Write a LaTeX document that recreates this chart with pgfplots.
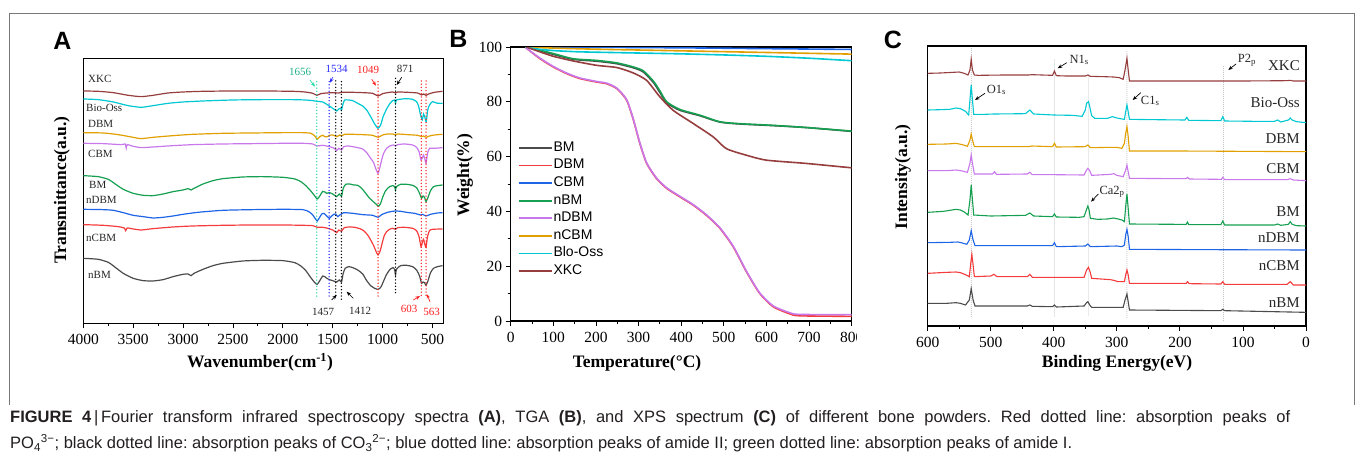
\documentclass[border=0pt]{standalone}
\usepackage{fontspec}
\setmainfont{Liberation Serif}
\setsansfont{Liberation Sans}
\usepackage{pgfplots}
\pgfplotsset{compat=1.18}
\usetikzlibrary{arrows.meta}
\newcommand{\fs}[1]{\fontsize{#1}{#1}\selectfont}
\definecolor{cXKC}{RGB}{150,62,62}
\definecolor{cBio}{RGB}{0,200,210}
\definecolor{cDBM}{RGB}{225,160,0}
\definecolor{cCBM}{RGB}{200,120,235}
\definecolor{cBM}{RGB}{20,160,80}
\definecolor{cnDBM}{RGB}{30,100,230}
\definecolor{cnCBM}{RGB}{245,60,60}
\definecolor{cnBM}{RGB}{75,75,75}
\definecolor{dgreen}{RGB}{40,220,170}
\definecolor{dblue}{RGB}{40,40,255}
\definecolor{dred}{RGB}{255,30,30}
\definecolor{frame}{RGB}{120,120,120}
\definecolor{capt}{RGB}{35,31,32}
\pgfplotsset{panel/.style={scale only axis, axis line style={line width=1.3pt},
  tick style={line width=0.9pt, black}, tick align=outside,
  major tick length=5pt, minor tick length=3pt,
  tick label style={font=\fs{15.5}},
  xticklabel style={yshift=-2.5pt},
  /pgf/number format/assume math mode=true, /pgf/number format/1000 sep={}}}
\tikzset{dotl/.style={line width=1.5pt, line cap=round, dash pattern=on 0pt off 3.2pt},
  arr/.style={-{Stealth[length=4.5pt,width=3.5pt]}, line width=0.7pt}}
\begin{document}
\frenchspacing
\begin{tikzpicture}[x=1pt,y=1pt]
\path (0,0) rectangle (1355,459);
% frame
\draw[frame, line width=0.8pt] (9.5,54) -- (9.5,446) -- (1354,446) -- (1354,54);
% panel letters
\node[font=\sffamily\bfseries\fs{25}] at (62.5,418.5) {A};
\node[font=\sffamily\bfseries\fs{25}] at (458.5,420) {B};
\node[font=\sffamily\bfseries\fs{25}] at (893,419) {C};
%================ A =================
\begin{axis}[panel, at={(83.3pt,135.7pt)}, anchor=south west, width=360pt, height=265pt,
  x dir=reverse, xmin=392, xmax=4000, y dir=reverse, ymin=115, ymax=910,
  xtick={500,1000,...,4000}, minor x tick num=1, ytick=\empty, xtick pos=left,
  every axis plot/.append style={line width=1.2pt, smooth, tension=0.35}]
\addplot[cXKC] coordinates {(4000,213)(3850,214)(3700,218)(3550,226)(3420,230)(3300,226)(3150,219)(3000,216)(2800,214)(2500,213)(2200,213)(1900,214)(1780,216)(1700,220)(1660,226)(1620,221)(1560,219)(1500,218)(1440,219)(1400,217)(1300,217)(1200,218)(1100,220)(1046,228)(1000,221)(950,218)(900,216)(871,219)(850,216)(750,217)(650,219)(610,225)(590,222)(565,226)(530,221)(480,217)(400,214)};
\addplot[cBio] coordinates {(4000,237)(3850,239)(3700,246)(3550,257)(3420,262)(3300,257)(3150,250)(3000,246)(2800,243)(2500,240)(2200,239)(1900,239)(1780,240)(1700,242)(1660,244)(1600,246)(1550,255)(1500,265)(1460,273)(1440,267)(1420,265)(1412,270)(1395,250)(1380,240)(1340,240)(1300,242)(1250,250)(1200,258)(1160,270)(1120,290)(1080,312)(1046,325)(1020,315)(995,290)(960,267)(930,252)(900,242)(880,240)(871,250)(862,240)(828,238)(760,236)(700,238)(660,245)(640,258)(620,285)(603,300)(590,282)(575,294)(563,305)(548,270)(530,255)(500,245)(450,250)(400,250)};
\addplot[cDBM] coordinates {(4000,338)(3800,339)(3650,344)(3500,352)(3420,356)(3300,352)(3100,347)(2900,343)(2600,340)(2300,339)(2000,338)(1800,338)(1720,340)(1680,348)(1656,358)(1630,350)(1600,346)(1580,350)(1550,350)(1534,346)(1500,345)(1460,350)(1430,345)(1412,348)(1380,343)(1300,343)(1200,344)(1100,346)(1046,352)(1000,345)(950,342)(900,342)(871,345)(850,342)(750,344)(650,346)(610,350)(590,348)(565,352)(530,348)(480,345)(400,343)};
\addplot[cCBM] coordinates {(4000,370)(3800,371)(3620,374)(3580,372)(3570,384)(3560,374)(3500,379)(3420,383)(3300,381)(3100,377)(2900,374)(2600,372)(2300,371)(2000,370)(1800,370)(1700,372)(1660,378)(1600,376)(1534,380)(1490,384)(1460,392)(1440,385)(1412,390)(1390,380)(1350,378)(1300,380)(1250,383)(1200,387)(1160,398)(1120,415)(1090,428)(1070,445)(1046,460)(1030,445)(1010,420)(990,400)(960,385)(920,377)(890,375)(871,378)(850,374)(780,372)(700,375)(660,382)(635,395)(615,420)(600,412)(590,405)(575,420)(565,430)(550,400)(530,385)(480,385)(400,383)};
\addplot[cBM] coordinates {(4000,467)(3850,470)(3750,478)(3680,492)(3600,508)(3500,520)(3400,526)(3300,527)(3200,522)(3100,515)(3000,510)(2950,506)(2920,510)(2890,505)(2800,492)(2700,482)(2600,476)(2400,471)(2200,470)(2000,472)(1880,477)(1820,485)(1770,497)(1720,513)(1680,528)(1656,537)(1630,528)(1600,514)(1580,516)(1560,520)(1534,518)(1500,522)(1460,530)(1435,522)(1412,529)(1395,505)(1370,493)(1330,492)(1290,495)(1250,496)(1210,505)(1170,520)(1130,535)(1090,546)(1060,554)(1040,559)(1020,550)(1000,532)(970,512)(930,500)(895,497)(880,500)(871,510)(862,500)(820,493)(760,493)(700,496)(660,503)(630,520)(610,535)(595,528)(580,532)(565,545)(545,532)(520,512)(490,500)(450,497)(400,495)};
\addplot[cnDBM] coordinates {(4000,568)(3800,569)(3700,571)(3600,578)(3500,586)(3400,590)(3300,594)(3200,592)(3100,588)(3000,583)(2850,577)(2600,571)(2300,569)(2000,568)(1800,569)(1740,575)(1700,585)(1670,598)(1656,603)(1635,594)(1610,582)(1590,580)(1560,588)(1534,595)(1510,588)(1490,583)(1470,582)(1450,590)(1430,585)(1412,582)(1390,578)(1340,579)(1300,580)(1200,584)(1100,586)(1046,592)(1010,584)(950,577)(900,574)(871,573)(820,574)(740,578)(680,580)(620,585)(600,583)(565,588)(520,583)(450,579)(400,578)};
\addplot[cnCBM] coordinates {(4000,614)(3800,616)(3650,620)(3590,624)(3575,632)(3560,624)(3500,627)(3420,630)(3300,626)(3100,621)(2900,618)(2600,616)(2300,615)(2000,615)(1800,616)(1700,617)(1656,622)(1600,622)(1550,625)(1500,630)(1460,638)(1440,630)(1412,634)(1385,623)(1330,621)(1280,622)(1230,626)(1190,632)(1150,645)(1120,660)(1090,677)(1065,695)(1046,705)(1025,693)(1005,670)(985,648)(960,635)(930,628)(900,625)(871,628)(850,623)(780,622)(700,625)(660,632)(635,650)(615,680)(600,665)(590,658)(575,675)(565,682)(550,650)(530,632)(500,628)(400,627)};
\addplot[cnBM] coordinates {(4000,715)(3850,718)(3750,727)(3680,742)(3600,760)(3500,775)(3400,782)(3300,783)(3200,779)(3100,770)(3000,763)(2950,762)(2920,767)(2890,760)(2800,748)(2700,737)(2600,730)(2400,723)(2200,721)(2000,722)(1880,728)(1820,738)(1770,752)(1720,773)(1680,788)(1656,793)(1630,782)(1600,768)(1580,770)(1560,775)(1534,779)(1500,782)(1460,786)(1435,780)(1412,786)(1395,760)(1375,745)(1340,740)(1300,743)(1250,750)(1200,762)(1160,782)(1120,797)(1080,805)(1050,808)(1030,806)(1010,797)(990,783)(960,763)(925,748)(895,743)(880,748)(871,765)(862,748)(820,737)(760,736)(700,740)(660,750)(630,768)(610,790)(595,786)(580,788)(565,796)(545,782)(520,758)(490,745)(450,740)(400,737)};
\draw[dgreen, dotl] (1660,185) -- (1660,835);
\draw[dblue, dotl] (1536,185) -- (1536,830);
\draw[black, dotl] (1470,183) -- (1470,830);
\draw[black, dotl] (1413,185) -- (1413,840);
\draw[dred, dotl] (1046,185) -- (1046,830);
\draw[black, dotl] (871,175) -- (871,825);
\draw[dred, dotl] (612,183) -- (612,830);
\draw[dred, dotl] (565,183) -- (565,830);
\end{axis}
% A names
\begin{scope}[every node/.style={anchor=west, inner sep=0pt, font=\fs{11}, text=black!85}]
\node at (88,380) {XKC};
\node at (86,351) {Bio-Oss};
\node at (88,335) {DBM};
\node at (88,305) {CBM};
\node at (89,274) {BM};
\node at (86,259) {nDBM};
\node at (86,221) {nCBM};
\node at (88,184) {nBM};
\end{scope}
\begin{scope}[every node/.style={inner sep=0pt, font=\fs{11}}]
\node[text=dgreen!80!black] at (300,387.5) {1656};
\node[text=dblue] at (336.5,390) {1534};
\node[text=dred] at (368,389) {1049};
\node[text=black!85] at (405,390) {871};
\node[text=black!85] at (323,147.5) {1457};
\node[text=black!85] at (360,148) {1412};
\node[text=dred] at (409,150.5) {603};
\node[text=dred] at (431.5,147.5) {563};
\end{scope}
\draw[arr, dgreen] (310,379) -- (315,372.3);
\draw[arr, dblue] (332.7,381.7) -- (330,376.3);
\draw[arr, dred] (371.7,379.7) -- (376,373.3);
\draw[arr, black] (401.7,381.7) -- (396.7,374);
\draw[arr, black] (331.7,159) -- (336.7,164);
\draw[arr, black] (353.3,160.7) -- (346.7,167.3);
\draw[arr, dred] (413.3,159) -- (420,163);
\draw[arr, dred] (430,157.3) -- (426.7,165);
\node[font=\bfseries\fs{17.5}, rotate=90] at (62,269) {Transmittance(a.u.)};
\node[font=\bfseries\fs{17.5}] at (260,97) {Wavenumber(cm\textsuperscript{-1})};
%================ B =================
\begin{scope}
\clip (440,0) rectangle (856,459);
\begin{axis}[panel, at={(510.7pt,138pt)}, anchor=south west, width=341pt, height=274pt,
  xmin=0, xmax=800, ymin=0, ymax=100, xtick={0,100,...,800}, ytick={0,20,...,100},
  minor tick num=1, xtick pos=left, ytick pos=left,
  every axis plot/.append style={line width=1.6pt, smooth, tension=0.4},
  legend style={at={(axis description cs:0.02,0.66)}, anchor=north west, draw=none, fill=none,
    font=\sffamily\fs{14}, row sep=2.6pt, inner sep=0pt,
    nodes={inner sep=1pt, text height=10pt, text depth=3pt}},
  legend cell align=left,
  legend image code/.code={\draw[#1, line width=1.8pt] (0pt,0pt) -- (33pt,0pt);}]
\addplot[cnBM] coordinates {(37,100)(60,99.0)(100,97.3)(147,95.5)(202,94.8)(249,93.9)(288,92.4)(311,90.9)(335,87.0)(350,83.4)(366,79.6)(397,76.9)(444,74.9)(491,72.6)(538,71.9)(616,71.3)(694,70.6)(800,69.2)};
\addlegendentry{BM}
\addplot[cnCBM] coordinates {(35,99.8)(69,95.7)(100,92.7)(131,90.3)(162,88.5)(202,87.2)(225,86.6)(249,84.8)(272,80.6)(288,73.3)(303,64.8)(319,57.5)(342,52)(366,48.4)(397,45.3)(428,42.3)(459,38.6)(491,33.8)(522,27.1)(553,18)(584,10.1)(616,5.2)(655,2.6)(678,1.9)(800,1.7)};
\addlegendentry{DBM}
\addplot[cnDBM] coordinates {(35,100)(200,99.9)(400,99.7)(600,99.4)(800,99.1)};
\addlegendentry{CBM}
\addplot[cBM] coordinates {(37,100)(60,99.2)(100,97.6)(147,95.7)(202,95.1)(249,94.2)(288,92.7)(311,91.3)(335,87.5)(350,84)(366,80)(397,77.2)(444,75.1)(491,72.7)(538,72)(616,71.4)(694,70.6)(800,69.3)};
\addlegendentry{nBM}
\addplot[cCBM] coordinates {(35,99.8)(69,95.9)(100,92.9)(131,90.5)(162,88.7)(202,87.4)(225,86.8)(249,85.0)(272,80.8)(288,73.5)(303,65.0)(319,57.7)(342,52.2)(366,48.6)(397,45.5)(428,42.5)(459,38.8)(491,34.0)(522,27.3)(553,18.2)(584,10.3)(616,5.5)(655,3.0)(678,2.4)(800,2.3)};
\addlegendentry{nDBM}
\addplot[cDBM] coordinates {(35,100)(100,99.6)(200,99.2)(300,98.9)(400,98.6)(500,98.3)(600,98.0)(700,97.7)(800,97.4)};
\addlegendentry{nCBM}
\addplot[cBio] coordinates {(35,100)(60,99.3)(100,98.7)(150,98.3)(200,98.1)(300,97.8)(400,97.5)(500,97.1)(600,96.6)(700,95.9)(800,95.0)};
\addlegendentry{Blo-Oss}
\addplot[cXKC] coordinates {(37,100)(69,98.2)(100,96.6)(147,94.9)(202,93.3)(249,92.5)(288,90.5)(319,87.8)(350,81.8)(381,76.9)(428,72.1)(475,67.2)(506,62.9)(553,60.5)(600,58.7)(694,57.5)(800,55.9)};
\addlegendentry{XKC}
\end{axis}
\end{scope}
\node[font=\bfseries\fs{17.5}, rotate=90] at (465,284) {Weight(\%)};
\node[font=\bfseries\fs{17.5}] at (637,96) {Temperature(°C)};
%================ C =================
\begin{axis}[panel, at={(927.7pt,133pt)}, anchor=south west, width=378.3pt, height=280pt,
  x dir=reverse, xmin=0, xmax=600, y dir=reverse, ymin=78, ymax=918,
  xtick={0,100,...,600}, minor x tick num=1, ytick=\empty, xtick pos=left,
  every axis plot/.append style={line width=1.1pt}]
\draw[black!35, line width=0.9pt, line cap=round, dash pattern=on 0pt off 2pt] (531,85) -- (531,895);
\draw[black!35, line width=0.9pt, line cap=round, dash pattern=on 0pt off 2pt] (399,120) -- (399,890);
\draw[black!35, line width=0.9pt, line cap=round, dash pattern=on 0pt off 2pt] (345,165) -- (345,890);
\draw[black!35, line width=0.9pt, line cap=round, dash pattern=on 0pt off 2pt] (284,95) -- (284,895);
\draw[black!35, line width=0.9pt, line cap=round, dash pattern=on 0pt off 2pt] (131,140) -- (131,905);
\addplot[cXKC] coordinates {(600,160)(580,159)(560,157)(550,156)(542,160)(536,165)(533,150)(531,118)(529,150)(526,165)(520,166)(480,165)(440,165)(435,164)(402,166)(399,153)(396,167)(380,168)(350,168)(346,165)(342,169)(320,170)(305,171)(296,173)(290,178)(287,150)(284,115)(282,150)(280,183)(200,183)(100,183)(30,182)(25,181)(20,183)(0,183)};
\addplot[cBio] coordinates {(600,270)(580,269)(565,268)(555,264)(548,266)(540,274)(535,285)(533,240)(531,195)(529,240)(527,283)(510,283)(495,282)(445,281)(438,270)(432,282)(400,285)(370,286)(355,289)(350,270)(348,250)(345,245)(343,260)(340,287)(335,295)(315,295)(307,290)(300,294)(292,297)(288,298)(286,275)(284,255)(282,275)(280,298)(240,299)(192,300)(189,292)(186,301)(135,302)(132,290)(129,303)(80,304)(50,304)(45,300)(40,306)(28,300)(25,294)(22,300)(15,305)(0,308)};
\addplot[cDBM] coordinates {(600,373)(570,372)(555,370)(545,374)(537,379)(533,360)(531,342)(529,360)(526,380)(500,380)(440,380)(435,378)(402,380)(399,370)(396,381)(350,380)(346,375)(342,383)(310,382)(300,382)(292,385)(288,370)(286,340)(284,320)(282,350)(280,393)(200,393)(100,394)(0,395)};
\addplot[cCBM] coordinates {(600,452)(570,452)(555,450)(545,453)(537,457)(533,430)(531,405)(529,430)(526,462)(497,462)(494,455)(491,463)(442,462)(438,457)(434,464)(400,464)(352,465)(348,450)(346,445)(343,452)(340,466)(310,463)(305,461)(300,466)(290,470)(286,450)(284,435)(282,455)(280,475)(200,476)(190,476)(188,472)(185,477)(134,478)(132,472)(129,479)(30,479)(25,476)(20,480)(0,482)};
\addplot[cBM] coordinates {(600,577)(575,574)(555,568)(548,570)(542,576)(536,585)(533,540)(531,495)(529,540)(527,585)(500,588)(445,586)(438,579)(432,588)(402,590)(399,582)(396,591)(360,592)(352,590)(348,568)(346,558)(344,570)(342,595)(330,598)(315,597)(305,594)(298,597)(292,600)(288,605)(286,560)(284,522)(282,565)(280,612)(200,613)(190,613)(188,606)(186,614)(135,614)(132,603)(129,615)(50,615)(45,612)(40,616)(28,613)(25,605)(22,613)(15,617)(0,618)};
\addplot[cnDBM] coordinates {(600,668)(565,667)(552,666)(545,669)(538,673)(534,660)(531,632)(528,660)(525,677)(480,677)(440,677)(402,677)(399,668)(396,680)(350,678)(346,672)(342,680)(300,678)(292,680)(288,675)(286,645)(284,628)(282,650)(280,688)(150,689)(0,690)};
\addplot[cnCBM] coordinates {(600,760)(570,757)(555,756)(548,758)(540,764)(534,770)(532,735)(530,703)(528,735)(526,770)(500,768)(495,763)(490,770)(442,770)(438,763)(434,772)(352,772)(348,750)(345,742)(342,758)(340,775)(310,779)(305,781)(298,785)(288,785)(286,765)(284,750)(282,765)(280,790)(200,790)(190,790)(188,785)(185,791)(135,792)(132,785)(129,793)(30,793)(25,785)(20,795)(0,795)};
\addplot[cnBM] coordinates {(600,850)(570,850)(555,848)(548,850)(540,855)(534,840)(531,806)(528,840)(525,858)(442,858)(438,855)(434,859)(402,860)(399,855)(396,861)(352,858)(348,848)(346,845)(343,855)(340,862)(300,862)(290,862)(287,840)(284,822)(282,845)(280,870)(135,872)(132,868)(129,872)(0,877)};
\end{axis}
\begin{scope}[every node/.style={anchor=east, inner sep=0pt, font=\fs{15}, text=black!85}]
\node at (1300,393) {XKC};
\node at (1300,356.3) {Bio-Oss};
\node at (1300,320) {DBM};
\node at (1300,290.7) {CBM};
\node at (1300,247.3) {BM};
\node at (1300,221.7) {nDBM};
\node at (1300,193) {nCBM};
\node at (1300,156.3) {nBM};
\end{scope}
\begin{scope}[every node/.style={anchor=west, inner sep=0pt, font=\fs{12.5}, text=black!85}]
\node at (986.7,369) {O1\textsubscript{s}};
\node at (1069.3,399) {N1\textsubscript{s}};
\node at (1140.7,358) {C1\textsubscript{s}};
\node at (1099.3,267.3) {Ca2\textsubscript{p}};
\node at (1237.7,399) {P2\textsubscript{p}};
\end{scope}
\draw[arr] (985,365.7) -- (975,359);
\draw[arr] (1066.7,396.3) -- (1057.7,390.7);
\draw[arr] (1140.7,366.3) -- (1132.7,359);
\draw[arr] (1098.3,265) -- (1091,257.3);
\draw[arr] (1236,395) -- (1228.3,389);
\node[font=\bfseries\fs{17.5}, rotate=90] at (903,282) {Intensity(a.u.)};
\node[font=\bfseries\fs{17.5}] at (1117,96) {Binding Energy(eV)};
%================ caption =================
\node[anchor=west, inner sep=0pt, font=\sffamily\fs{16.5}, text=capt] at (10,41) {\makebox[1280pt][s]{\textbf{FIGURE 4}\,|\,Fourier transform infrared spectroscopy spectra \textbf{(A)}, TGA \textbf{(B)}, and XPS spectrum \textbf{(C)} of different bone powders. Red dotted line: absorption peaks of}};
\node[anchor=west, inner sep=0pt, font=\sffamily\fs{16.5}, text=capt] at (10,16) {PO\textsubscript{4}\textsuperscript{3−}; black dotted line: absorption peaks of CO\textsubscript{3}\textsuperscript{2−}; blue dotted line: absorption peaks of amide II; green dotted line: absorption peaks of amide I.};
\end{tikzpicture}
\end{document}
